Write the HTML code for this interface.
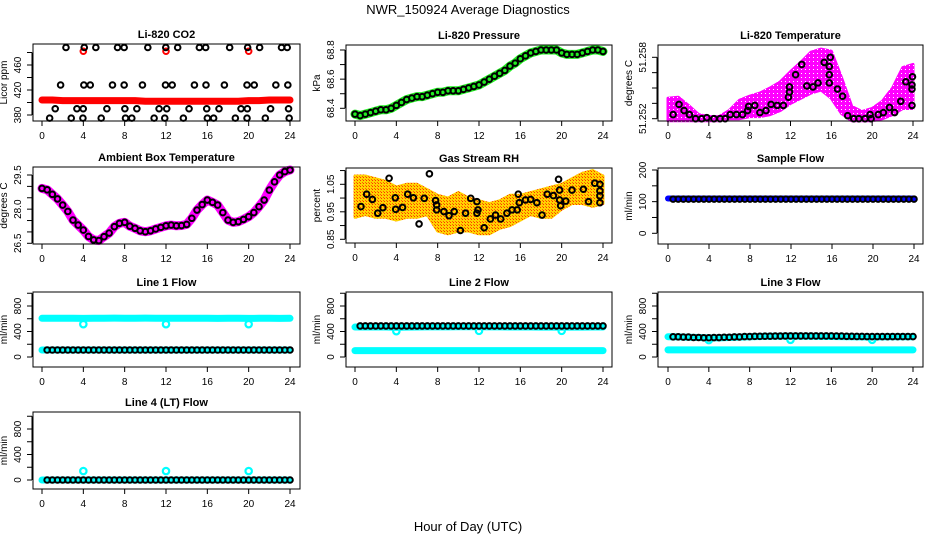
<!DOCTYPE html>
<html><head><meta charset="utf-8"><title>NWR_150924 Average Diagnostics</title>
<style>
html,body{margin:0;padding:0;background:#fff;}
svg{display:block;font-family:"Liberation Sans",Arial,sans-serif;}
</style></head>
<body>
<svg id="chart" width="936" height="540" viewBox="0 0 936 540" xmlns="http://www.w3.org/2000/svg">
<defs>
<pattern id="magPat" width="4" height="4" patternUnits="userSpaceOnUse"><rect width="4" height="4" fill="#ff00ff"/><rect x="1" y="1" width="1" height="1" fill="#fff"/></pattern>
<pattern id="rhPat" width="3" height="3" patternUnits="userSpaceOnUse"><rect width="3" height="3" fill="#ffd200"/><rect width="1" height="1" fill="#ff3000"/><rect x="2" y="2" width="1" height="1" fill="#ff6000"/></pattern>
</defs>
<text x="468" y="14" text-anchor="middle" font-size="13">NWR_150924  Average Diagnostics</text>
<text x="468" y="531" text-anchor="middle" font-size="13">Hour of Day (UTC)</text>
</svg>
<script>
// ---------- data ----------
const xTicks = [0,4,8,12,16,20,24];
const hours = [0,1,2,3,4,5,6,7,8,9,10,11,12,13,14,15,16,17,18,19,20,21,22,23,24];
const halfHours = [0,0.5,1,1.5,2,2.5,3,3.5,4,4.5,5,5.5,6,6.5,7,7.5,8,8.5,9,9.5,10,10.5,11,11.5,12,12.5,13,13.5,14,14.5,15,15.5,16,16.5,17,17.5,18,18.5,19,19.5,20,20.5,21,21.5,22,22.5,23,23.5,24];
const outlierHours = [4,12,20];

// CO2
const co2Red = [404,404,403,403,403,403,403,403,403,403,402,402,402,402,402,402,402,402,402,402,403,403,404,404,404];
const co2RedOutliers = [482,482,482];
const co2BlackT = [2.32,4.09,5.21,7.31,7.95,10.24,11.98,13.13,15.23,15.84,18.16,19.9,21.06,23.18,23.73,
  1.80,4.05,4.67,6.82,7.95,9.72,11.95,12.6,14.75,15.87,17.65,19.84,20.54,22.63,23.79,
  1.28,3.38,3.99,6.28,8.02,9.18,11.33,12.07,14.23,15.94,17.13,19.26,19.87,22.12,23.86,
  0.74,2.83,3.96,5.73,8.08,8.69,10.85,11.88,13.68,16.0,16.61,18.71,19.84,21.61,23.92];
const co2BlackV = [488,488,488,488,488,488,488,488,488,488,488,488,488,488,488,
  428,428,428,428,428,428,428,428,428,428,428,428,428,428,428,
  390,390,390,390,390,390,390,390,390,390,390,390,390,390,390,
  375,375,375,375,375,375,375,375,375,375,375,375,375,375,375];

// Pressure
const pressure = [68.36,68.35,68.36,68.37,68.38,68.39,68.39,68.40,68.42,68.44,68.46,68.47,68.48,68.48,68.49,68.50,68.51,68.51,68.52,68.52,68.52,68.53,68.54,68.55,68.56,68.58,68.60,68.62,68.64,68.66,68.69,68.71,68.74,68.76,68.78,68.79,68.80,68.80,68.80,68.80,68.78,68.77,68.77,68.77,68.78,68.79,68.80,68.80,68.79];

// Li-820 temperature
const tempLo = [51.2518,51.2518,51.2518,51.2518,51.2518,51.2518,51.2520,51.2520,51.2522,51.2522,51.2524,51.2528,51.2535,51.2540,51.2545,51.2548,51.2540,51.2525,51.2518,51.2518,51.2518,51.2520,51.2524,51.2530,51.2530];
const tempHi = [51.2540,51.2541,51.2533,51.2524,51.2522,51.2522,51.2528,51.2538,51.2542,51.2545,51.2550,51.2556,51.2566,51.2575,51.2585,51.2588,51.2586,51.2560,51.2532,51.2527,51.2530,51.2537,51.2550,51.2570,51.2573];
const tempBlackT = [0.5,1.08,1.57,2.1,2.7,3.3,3.8,4.5,5.1,5.6,6.1,6.7,7.3,7.8,7.9,8.5,9.0,9.6,10.1,10.7,11.3,11.8,11.9,11.9,12.5,13.1,13.6,14.2,14.7,15.3,15.8,15.9,15.8,15.8,16.6,17.1,17.6,18.2,18.7,19.3,19.8,19.9,20.6,21.1,21.7,22.2,22.8,23.3,23.95,23.9,23.9,23.9];
const tempBlackV = [51.2524,51.2534,51.2528,51.2524,51.2520,51.2520,51.2521,51.2520,51.2520,51.2520,51.2524,51.2524,51.2524,51.2528,51.2532,51.2533,51.2526,51.2528,51.2534,51.2533,51.2533,51.2541,51.2546,51.2551,51.2563,51.2573,51.2552,51.2551,51.2555,51.2575,51.2571,51.2580,51.2563,51.2555,51.2549,51.2542,51.2523,51.2520,51.2520,51.2520,51.2524,51.2520,51.2524,51.2526,51.2531,51.2526,51.2537,51.2556,51.2561,51.2553,51.2549,51.2533];

// Ambient box temperature
const ambient = [28.91,28.85,28.65,28.45,28.18,27.90,27.52,27.30,27.08,26.80,26.65,26.62,26.79,26.95,27.23,27.38,27.42,27.25,27.16,27.05,27.01,27.05,27.13,27.20,27.27,27.30,27.27,27.28,27.33,27.60,27.96,28.20,28.40,28.30,28.18,27.85,27.52,27.42,27.45,27.55,27.67,27.85,28.11,28.40,28.84,29.20,29.50,29.65,29.72];

// Gas stream RH
const rhLo = [0.93,0.94,0.93,0.93,0.92,0.93,0.93,0.94,0.88,0.87,0.88,0.88,0.87,0.87,0.89,0.90,0.92,0.94,0.93,0.93,0.96,0.98,0.98,0.97,0.98];
const rhHi = [1.08,1.08,1.07,1.06,1.04,1.05,1.05,1.03,1.01,1.00,1.02,1.00,0.99,0.98,0.99,1.01,1.01,1.02,1.03,1.04,1.05,1.07,1.09,1.10,1.08];
const rhBlackT = [0.58,1.13,1.68,2.2,2.7,3.3,3.9,3.94,4.6,5.1,5.65,6.2,6.7,7.2,7.8,7.9,7.9,8.6,9.1,9.6,10.2,10.7,11.2,11.8,11.8,11.9,12.5,13.1,13.6,14.1,14.7,15.2,15.7,15.8,15.9,16.5,17.0,17.6,18.1,18.6,19.2,19.7,19.8,19.8,19.9,20.4,21.0,22.1,22.6,23.2,23.7,23.7,23.7,23.7];
const rhBlackV = [0.969,1.014,0.995,0.945,0.965,1.072,1.001,0.959,0.966,1.014,1.001,0.906,0.999,1.088,0.991,0.957,0.975,0.951,0.936,0.951,0.882,0.945,0.999,0.987,0.945,0.957,0.892,0.924,0.938,0.924,0.945,0.957,0.957,1.014,0.983,0.993,0.995,0.983,0.938,1.014,1.009,1.068,1.029,0.993,0.972,0.989,1.029,1.032,0.987,1.054,1.050,1.026,1.008,0.983];

// Flows (hourly)
const sampleBlue  = [110,110,110,110,110,110,110,110,110,110,110,110,110,110,110,110,110,110,110,110,110,110,110,110,110];
const sampleBlack = [108,108,108,108,108,108,108,108,108,108,108,108,108,108,108,108,108,108,108,108,108,108,108,108,108];
const line1CyanHi = [607,607,607,608,606,607,608,609,607,607,609,608,607,608,607,607,607,606,607,607,606,607,607,606,607];
const line1CyanOut = [515,515,515];
const line1CyanLo = [110,110,110,110,110,110,110,110,110,110,110,110,110,110,110,110,110,110,110,110,110,110,110,110,110];
const line1Black  = [110,110,110,110,110,110,110,110,110,110,110,110,110,110,110,110,110,110,110,110,110,110,110,110,110];
const line2CyanHi = [470,470,470,470,465,468,470,472,472,473,474,475,474,473,472,470,470,470,468,468,466,468,468,470,470];
const line2CyanOut = [405,410,410];
const line2CyanLo = [100,100,100,100,100,100,100,100,100,100,100,100,100,100,100,100,100,100,100,100,100,100,100,100,100];
const line2Black  = [488,488,488,488,488,488,488,488,488,488,488,488,488,488,488,488,488,488,488,488,488,488,488,488,488];
const line3CyanHi = [318,315,310,305,300,300,305,312,318,322,325,326,328,326,325,324,322,320,318,316,314,316,318,318,318];
const line3CyanOut = [265,270,270];
const line3CyanLo = [112,112,112,112,112,112,112,112,112,112,112,112,112,112,112,112,112,112,112,112,112,112,112,112,112];
const line3Black  = [318,316,312,306,302,305,310,315,320,324,326,328,330,330,330,330,330,328,325,322,320,320,320,320,320];
const line4Cyan   = [0,0,0,0,0,0,0,0,0,0,0,0,0,0,0,0,0,0,0,0,0,0,0,0,0];
const line4CyanOut = [140,140,140];
const line4Black  = [0,0,0,0,0,0,0,0,0,0,0,0,0,0,0,0,0,0,0,0,0,0,0,0,0];

// ---------- drawing ----------
const NS = "http://www.w3.org/2000/svg";
const svg = document.getElementById("chart");
function mk(tag, attrs, parent){
  const e = document.createElementNS(NS, tag);
  for (const k in attrs) e.setAttribute(k, attrs[k]);
  (parent || svg).appendChild(e);
  return e;
}
function panel(p){
  const g = mk("g", {});
  
  
  const sx = h => p.x0 + (h/24)*(p.x24 - p.x0);
  const sy = v => p.ya[1] + (v - p.ya[0]) * (p.ya[3] - p.ya[1]) / (p.ya[2] - p.ya[0]);
  const plot = mk("g", {}, g);
  
  
  const box = mk("rect", {x:p.L, y:p.T, width:p.R-p.L, height:p.B-p.T, fill:"none", stroke:"#000", "stroke-width":1}, g);
  
  
  const title = mk("text", {x:(p.L+p.R)/2, y:p.T-6, "text-anchor":"middle", "font-size":11, "font-weight":"bold"}, g);
  title.textContent = p.title;
  
  
  const xa = mk("g", {}, g);
  
  
  mk("line", {x1:sx(0), x2:sx(24), y1:p.B, y2:p.B, stroke:"#000"}, xa);
  xTicks.forEach(t => {
    mk("line", {x1:sx(t), x2:sx(t), y1:p.B, y2:p.B+5, stroke:"#000"}, xa);
    const tl = mk("text", {x:sx(t), y:p.B+18, "text-anchor":"middle", "font-size":10}, xa);
    tl.textContent = t;
    
    
  });
  const ya = mk("g", {}, g);
  
  
  mk("line", {x1:p.L-1, x2:p.L-1, y1:sy(p.ticks[0]), y2:sy(p.ticks[p.ticks.length-1]), stroke:"#000"}, ya);
  p.ticks.forEach(t => mk("line", {x1:p.L-6, x2:p.L-1, y1:sy(t), y2:sy(t), stroke:"#000"}, ya));
  p.labs.forEach(t => {
    const x = p.L-12, y = sy(t);
    const tl = mk("text", {x:x, y:y, "text-anchor":"middle", "font-size":10, transform:`rotate(-90 ${x} ${y})`}, ya);
    tl.textContent = p.fmt ? p.fmt(t) : t;
    
    
  });
  const lx = p.L-26, ly = (p.T+p.B)/2;
  const yl = mk("text", {x:lx, y:ly, "text-anchor":"middle", "font-size":10, transform:`rotate(-90 ${lx} ${ly})`}, g);
  yl.textContent = p.ylab;
  
  
  return {sx, sy, plot};
}
function band(P, ts, vs, color, w, nm){
  const pl = mk("polyline", {points: ts.map((t,i)=>P.sx(t)+","+P.sy(vs[i])).join(" "), fill:"none", stroke:color, "stroke-width":w, "stroke-linecap":"round", "stroke-linejoin":"round"}, P.plot);
  
  
}
function env(P, ts, lo, hi, fill, nm){
  const pts = ts.map((t,i)=>P.sx(t)+","+P.sy(hi[i])).concat(ts.slice().reverse().map((t,j)=>P.sx(t)+","+P.sy(lo[ts.length-1-j])));
  const pg = mk("polygon", {points: pts.join(" "), fill: fill, stroke: fill, "stroke-width":3, "stroke-linejoin":"round"}, P.plot);
  
  
}
function pts(P, ts, vs, color, nm, r, sw){
  ts.forEach((t,i) => {
    const c = mk("circle", {cx:P.sx(t), cy:P.sy(vs[i]), r:r||2.8, fill:"none", stroke:color, "stroke-width":sw||2}, P.plot);
    
    
  });
}
const col = [{L:33,R:300,x0:42,x24:290},{L:346,R:612,x0:355,x24:603},{L:658,R:923,x0:668,x24:913}];
const flowTicks = [0,200,400,600,800,1000], flowLabs = [0,400,800];

// Row 1
let P = panel(Object.assign({name:"co2-panel", title:"Li-820 CO2", ylab:"Licor ppm", T:44, B:121, ya:[380,115,460,65], ticks:[380,400,420,440,460,480], labs:[380,420,460]}, col[0]));
band(P, hours, co2Red, "#ff0000", 7, "co2-red-series");
pts(P, outlierHours, co2RedOutliers, "#ff0000", "co2-red-outlier");
pts(P, co2BlackT, co2BlackV, "#000", "co2-black-point");

P = panel(Object.assign({name:"pressure-panel", title:"Li-820 Pressure", ylab:"kPa", T:45, B:121, ya:[68.4,108.3,68.8,50], ticks:[68.4,68.5,68.6,68.7,68.8], labs:[68.4,68.6,68.8], fmt:v=>v.toFixed(1)}, col[1]));
band(P, halfHours, pressure, "#22ee22", 9, "pressure-green-series");
pts(P, halfHours, pressure, "#000", "pressure-black-point");

P = panel(Object.assign({name:"licor-temp-panel", title:"Li-820 Temperature", ylab:"degrees C", T:45, B:121, ya:[51.252,118.7,51.258,57.3], ticks:[51.252,51.2535,51.255,51.2565,51.258], labs:[51.252,51.258], fmt:v=>v.toFixed(3)}, col[2]));
env(P, hours, tempLo, tempHi, "url(#magPat)", "licor-temp-magenta-series");
pts(P, tempBlackT, tempBlackV, "#000", "licor-temp-black-point");

// Row 2
P = panel(Object.assign({name:"ambient-temp-panel", title:"Ambient Box Temperature", ylab:"degrees C", T:167, B:244, ya:[26.5,243.3,29.5,175], ticks:[26.5,27,27.5,28,28.5,29,29.5], labs:[26.5,28,29.5], fmt:v=>v.toFixed(1)}, col[0]));
band(P, halfHours, ambient, "#ff00ff", 9, "ambient-temp-magenta-series");
pts(P, halfHours, ambient, "#000", "ambient-temp-black-point");

P = panel(Object.assign({name:"rh-panel", title:"Gas Stream RH", ylab:"percent", T:168, B:243, ya:[0.85,239.3,1.05,184.3], ticks:[0.85,0.9,0.95,1.0,1.05,1.1], labs:[0.85,0.95,1.05], fmt:v=>v.toFixed(2)}, col[1]));
env(P, hours, rhLo, rhHi, "url(#rhPat)", "rh-orange-series");
pts(P, rhBlackT, rhBlackV, "#000", "rh-black-point");

P = panel(Object.assign({name:"sample-flow-panel", title:"Sample Flow", ylab:"ml/min", T:168, B:244, ya:[0,233.3,200,170], ticks:[0,50,100,150,200], labs:[0,100,200]}, {L:658,R:923,x0:668,x24:914}));
band(P, hours, sampleBlue, "#0000ff", 6, "sample-flow-blue-series");
pts(P, hours.slice(1), sampleBlack.slice(1), "#000", "sample-flow-black-point");
pts(P, hours.slice(1).map(h=>h-0.5), sampleBlack.slice(1), "#000", "sample-flow-black-point");

// Rows 3-4
function flowPanel(name, title, c, T, B, y0, y800, hi, out, lo, blk){
  const Q = panel(Object.assign({name:name, title:title, ylab:"ml/min", T:T, B:B, ya:[0,y0,800,y800], ticks:flowTicks, labs:flowLabs}, c));
  if (hi) band(Q, hours, hi, "#00ffff", 7, name + "-cyan-series");
  if (out) pts(Q, outlierHours, out, "#00ffff", name + "-cyan-outlier", 3.2, 2.2);
  band(Q, hours, lo, "#00ffff", 7, name + "-cyan-low-series");
  pts(Q, hours.slice(1), blk.slice(1), "#000", name + "-black-point");
  pts(Q, hours.slice(1).map(h=>h-0.5), blk.slice(1), "#000", name + "-black-point");
}
flowPanel("line1-flow-panel", "Line 1 Flow", col[0], 292, 367, 357, 306, line1CyanHi, line1CyanOut, line1CyanLo, line1Black);
flowPanel("line2-flow-panel", "Line 2 Flow", col[1], 292, 367, 357, 306, line2CyanHi, line2CyanOut, line2CyanLo, line2Black);
flowPanel("line3-flow-panel", "Line 3 Flow", col[2], 292, 367, 357, 306, line3CyanHi, line3CyanOut, line3CyanLo, line3Black);
flowPanel("line4-flow-panel", "Line 4 (LT) Flow", col[0], 412, 489, 480, 429, null, line4CyanOut, line4Cyan, line4Black);
</script>
</body></html>
